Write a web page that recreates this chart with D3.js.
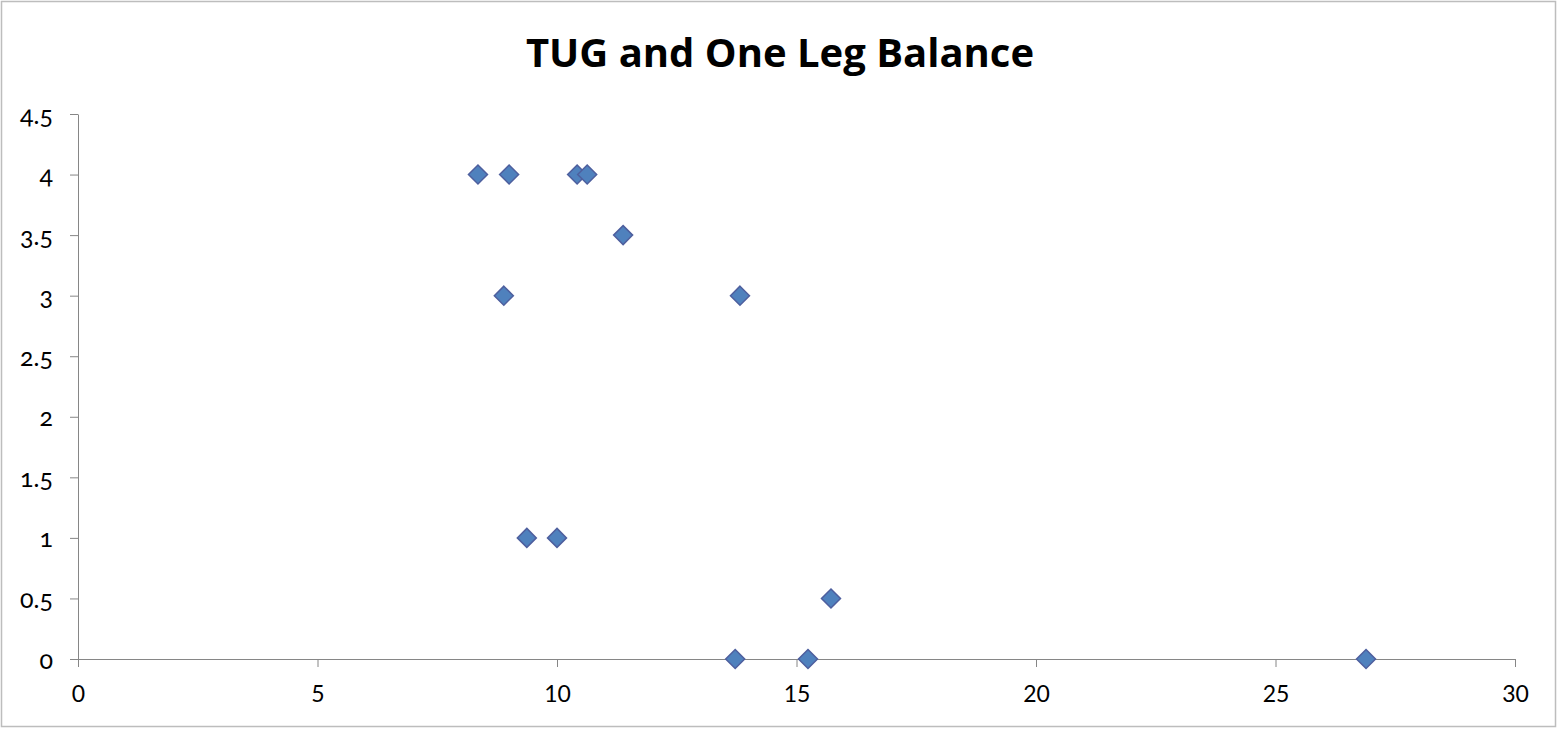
<!DOCTYPE html>
<html><head><meta charset="utf-8">
<script src="https://cdn.jsdelivr.net/npm/d3@7"></script>
<style>
body{margin:0;background:#fff;}
svg{display:block;}
.ylab{font-variant-numeric:oldstyle-nums;font-feature-settings:"onum" 1;}
</style></head>
<body><svg id="c" width="1557" height="729"></svg>
<script>
const title = "TUG and One Leg Balance";
const tugSeconds = [8.35, 9.0, 10.42, 10.63, 11.38, 8.89, 13.82, 9.37, 10.0, 15.72, 13.72, 15.24, 26.89];
const balanceScore = [4, 4, 4, 4, 3.5, 3, 3, 1, 1, 0.5, 0, 0, 0];
const xTicks = [0, 5, 10, 15, 20, 25, 30];
const yTicks = [0, 0.5, 1, 1.5, 2, 2.5, 3, 3.5, 4, 4.5];

const svg = d3.select("#c");
svg.append("rect").attr("x",1.5).attr("y",1.5).attr("width",1554).attr("height",725)
  .attr("fill","#fff").attr("stroke","#bdbdbd").attr("stroke-width",1.5);

svg.append("text").attr("x",780).attr("y",67).attr("text-anchor","middle")
  .attr("font-family","Open Sans, sans-serif").attr("font-weight","bold").attr("font-size",40)
  .text(title);

const x = d3.scaleLinear().domain([0,30]).range([78,1515]);
const y = d3.scaleLinear().domain([0,4.5]).range([659,114]);

const font = "Lato, Open Sans, sans-serif";
const xa = svg.append("g").attr("transform","translate(0,659)")
  .call(d3.axisBottom(x).tickValues(xTicks).tickSize(8).tickSizeOuter(0));
xa.select(".domain").attr("stroke","#868686");
xa.selectAll(".tick line").attr("stroke","#868686");
xa.selectAll("text").attr("y",43).attr("dy",0).attr("font-family",font).attr("font-size",23).attr("fill","#000");

const ya = svg.append("g").attr("transform","translate(78,0)")
  .call(d3.axisLeft(y).tickValues(yTicks).tickSize(8).tickSizeOuter(0).tickFormat(d3.format("")));
ya.select(".domain").attr("stroke","#868686");
ya.selectAll(".tick line").attr("stroke","#868686");
ya.selectAll("text").attr("class","ylab").attr("x",-25).attr("dy",9)
  .attr("font-family",font).attr("font-size",25).attr("fill","#000");

const pts = tugSeconds.map((v,i)=>({x:v,y:balanceScore[i]}));
svg.append("g").selectAll("path").data(pts).join("path")
  .attr("transform",d=>`translate(${x(d.x)},${y(d.y)})`)
  .attr("d","M0,-9.5L9.5,0L0,9.5L-9.5,0Z")
  .attr("fill","#4F81BD").attr("stroke","#4E5F9E").attr("stroke-width",1.5);
</script></body></html>
